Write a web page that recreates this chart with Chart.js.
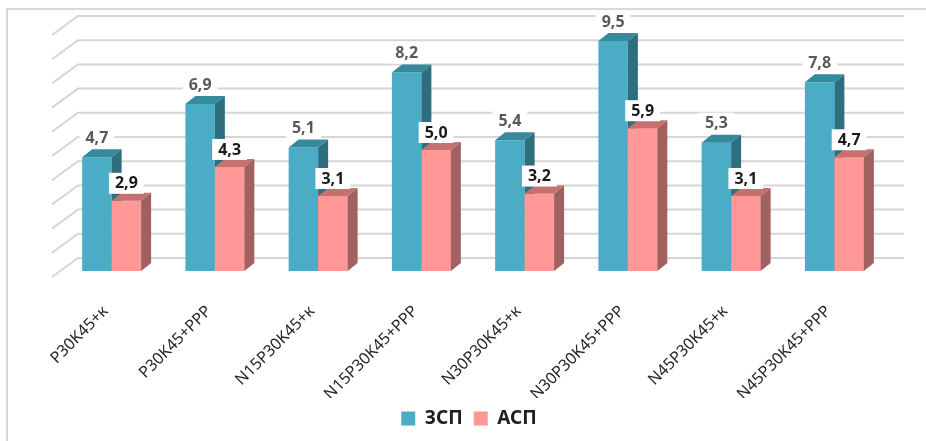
<!DOCTYPE html>
<html lang="ru">
<head>
<meta charset="UTF-8">
<title>ЗСП и АСП</title>
<script src="https://cdn.jsdelivr.net/npm/chart.js"></script>
<style>
    body { margin: 0; background: #fff; }
    .wrap { width: 926px; height: 441px; position: relative; }
</style>
</head>
<body>
<div class="wrap"><canvas id="chart"></canvas></div>
<script>
const categories = ['P30K45+к', 'P30K45+PPP', 'N15P30K45+к', 'N15P30K45+PPP',
                    'N30P30K45+к', 'N30P30K45+PPP', 'N45P30K45+к', 'N45P30K45+PPP'];
const seriesNames = ['ЗСП', 'АСП'];
const zspValues = [4.7, 6.9, 5.1, 8.2, 5.4, 9.5, 5.3, 7.8];
const aspValues = [2.9, 4.3, 3.1, 5.0, 3.2, 5.9, 3.1, 4.7];

// faces: front, top, side
const blueFaces = ['#4bacc6', '#368a9e', '#2f6e7e'];
const redFaces = ['#ff9896', '#c4716f', '#a06160'];
const DX = 10, DY = -8;   // bar depth

const fmt = v => v.toFixed(1).replace('.', ',');

function drawFaces(ctx, bar, faces, front) {
    const l = bar.x - bar.width / 2, r = bar.x + bar.width / 2;
    const t = bar.y, b = bar.base;
    if (front) {
        ctx.fillStyle = faces[0];
        ctx.fillRect(l, t, r - l, b - t);
    }
    ctx.fillStyle = faces[1];
    ctx.beginPath();
    ctx.moveTo(l, t); ctx.lineTo(l + DX, t + DY); ctx.lineTo(r + DX, t + DY); ctx.lineTo(r, t);
    ctx.closePath(); ctx.fill();
    ctx.fillStyle = faces[2];
    ctx.beginPath();
    ctx.moveTo(r, t); ctx.lineTo(r + DX, t + DY); ctx.lineTo(r + DX, b + DY); ctx.lineTo(r, b);
    ctx.closePath(); ctx.fill();
}

function drawLabel(ctx, x, y, text, color) {
    ctx.font = 'bold 16px "Noto Sans"';
    const w = ctx.measureText(text).width + 12;
    ctx.fillStyle = '#ffffff';
    ctx.fillRect(x - w / 2, y - 10, w, 21);
    ctx.fillStyle = color;
    ctx.textAlign = 'center';
    ctx.textBaseline = 'middle';
    ctx.fillText(text, x, y + 1);
}

const box3d = {
    id: 'box3d',
    beforeDraw(chart) {
        const ctx = chart.ctx;
        ctx.save();
        ctx.strokeStyle = '#d9d9d9';
        ctx.lineWidth = 2;
        ctx.strokeRect(7, 9, 1000, 1000);
        ctx.restore();
    },
    beforeDatasetsDraw(chart) {
        const {ctx, chartArea, scales: {y}} = chart;
        ctx.save();
        ctx.strokeStyle = '#d6d6d6';
        ctx.lineWidth = 2;
        y.ticks.forEach(t => {
            const py = y.getPixelForValue(t.value);
            ctx.beginPath();
            ctx.moveTo(chartArea.left - 8, py + 6);
            ctx.lineTo(chartArea.left + 18, py - 13);
            ctx.lineTo(chartArea.right + 18, py - 13);
            ctx.stroke();
        });
        ctx.restore();
    },
    afterDatasetsDraw(chart) {
        const ctx = chart.ctx;
        const blue = chart.getDatasetMeta(0).data;
        const red = chart.getDatasetMeta(1).data;
        ctx.save();
        blue.forEach((b, i) => {
            drawFaces(ctx, b, blueFaces, false);
            drawFaces(ctx, red[i], redFaces, true);
        });
        blue.forEach((b, i) => {
            drawLabel(ctx, b.x, b.y - 20, fmt(zspValues[i]), '#595959');
            drawLabel(ctx, red[i].x, red[i].y - 18, fmt(aspValues[i]), '#1a1a1a');
        });
        ctx.restore();
    }
};

new Chart(document.getElementById('chart'), {
    type: 'bar',
    data: {
        labels: categories,
        datasets: [{
            label: seriesNames[0],
            data: zspValues,
            backgroundColor: blueFaces[0],
            borderWidth: 0
        }, {
            label: seriesNames[1],
            data: aspValues,
            backgroundColor: redFaces[0],
            borderWidth: 0
        }]
    },
    options: {
        responsive: true,
        maintainAspectRatio: false,
        animation: false,
        events: [],
        layout: { padding: { top: 29, left: 52, right: 40, bottom: 3 } },
        datasets: { bar: { categoryPercentage: 0.571, barPercentage: 1.0 } },
        scales: {
            x: {
                grid: { display: false },
                border: { display: false },
                ticks: {
                    minRotation: 45,
                    maxRotation: 45,
                    padding: 23,
                    labelOffset: -6,
                    color: '#262626',
                    font: { family: '"Noto Sans"', size: 16 }
                },
                afterFit(scale) { scale.height = 127; }
            },
            y: {
                min: 0,
                max: 10,
                grid: { display: false },
                border: { display: false },
                ticks: { display: false, stepSize: 1 }
            }
        },
        plugins: {
            tooltip: { enabled: false },
            legend: {
                position: 'bottom',
                labels: {
                    boxWidth: 14,
                    boxHeight: 14,
                    padding: 11,
                    color: '#1f1f1f',
                    font: { family: '"Noto Sans"', size: 19, weight: 'bold' }
                }
            }
        }
    },
    plugins: [box3d]
});
</script>
</body>
</html>
